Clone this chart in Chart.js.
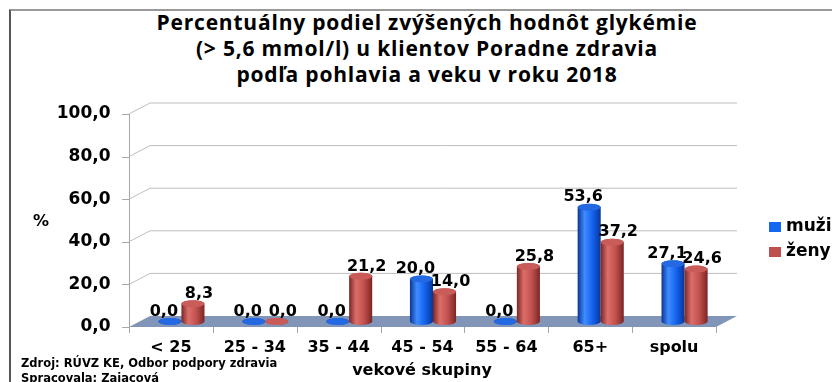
<!DOCTYPE html>
<html>
<head>
<meta charset="utf-8">
<script src="https://cdn.jsdelivr.net/npm/chart.js@4.4.0/dist/chart.umd.min.js"></script>
<style>
  html, body { margin: 0; padding: 0; background: #fff; }
  #wrap { position: relative; width: 832px; height: 382px; overflow: hidden; }
  #ram { position: absolute; left: 9px; top: 9px; right: -10px; bottom: -10px;
         border-top: 2px solid #999; border-left: 2px solid #555; }
  #nadpis { position: absolute; left: 0; width: 854px; top: 9px; text-align: center;
            font: bold 21px 'Open Sans', sans-serif; letter-spacing: 0.8px; line-height: 26px; color: #000; }
  #zdroj { position: absolute; left: 21px; top: 356px; font: bold 11.5px 'DejaVu Sans', sans-serif;
           line-height: 15px; color: #000; }
  canvas { position: absolute; left: 0; top: 0; }
</style>
</head>
<body>
<div id="wrap">
  <div id="ram"></div>
  <div id="nadpis">Percentuálny podiel zvýšených hodnôt glykémie<br>(&gt; 5,6 mmol/l) u klientov Poradne zdravia<br>podľa pohlavia a veku v roku 2018</div>
  <canvas id="graf" width="832" height="382"></canvas>
  <div id="zdroj">Zdroj: RÚVZ KE, Odbor podpory zdravia<br>Spracovala: Zajacová</div>
</div>
<script>
// vekové skupiny a hodnoty v %
const kategorie = ['< 25', '25 - 34', '35 - 44', '45 - 54', '55 - 64', '65+', 'spolu'];
const muzi = [0.0, 0.0, 0.0, 20.0, 0.0, 53.6, 27.1];
const zeny = [8.3, 0.0, 21.2, 14.0, 25.8, 37.2, 24.6];
const osYmin = 0;
const osYmax = 100;
const osYkrok = 20;

// hlbka 3D priestoru (posun od predu dozadu)
const HX = 21, HY = 11;
const pismo = { family: 'DejaVu Sans', weight: 'bold', size: 16 };
const cislo = v => v.toFixed(1).replace('.', ',');

const farby = [
  { tmava: '#0a3596', svetla: '#3f8cff', zaklad: '#1262ee', vrch: '#2468e2', legenda: '#1566f0' },
  { tmava: '#7a2624', svetla: '#dc6e6a', zaklad: '#c0504d', vrch: '#c95c59', legenda: '#c0504d' }
];

function valec(ctx, x, top, base, w, f) {
  const rx = w / 2, ry = 3.5;
  const g = ctx.createLinearGradient(x - rx, 0, x + rx, 0);
  g.addColorStop(0, f.tmava);
  g.addColorStop(0.3, f.svetla);
  g.addColorStop(0.65, f.zaklad);
  g.addColorStop(1, f.tmava);
  ctx.fillStyle = g;
  ctx.beginPath();
  ctx.moveTo(x - rx, top);
  ctx.lineTo(x - rx, base);
  ctx.ellipse(x, base, rx, ry, 0, Math.PI, 0, true);
  ctx.lineTo(x + rx, top);
  ctx.ellipse(x, top, rx, ry, 0, 0, Math.PI, true);
  ctx.closePath();
  ctx.fill();
  ctx.fillStyle = f.vrch;
  ctx.beginPath();
  ctx.ellipse(x, top, rx, ry, 0, 0, Math.PI * 2);
  ctx.fill();
}

const priestor = {
  id: 'priestor',
  beforeDatasetsDraw(chart) {
    const ctx = chart.ctx, a = chart.chartArea;
    const y = chart.scales.y;
    const dx = HX / 2, dy = HY / 2;
    ctx.save();
    ctx.lineWidth = 1;
    // mriezka na zadnej stene a bocne spojnice
    ctx.strokeStyle = '#bdbdbd';
    for (let v = osYmin + osYkrok; v <= osYmax; v += osYkrok) {
      const p = y.getPixelForValue(v);
      ctx.beginPath();
      ctx.moveTo(a.left - dx, p + dy);
      ctx.lineTo(a.left + dx, p - dy);
      ctx.lineTo(a.right + dx, p - dy);
      ctx.stroke();
    }
    // podlaha
    const b = y.getPixelForValue(0);
    ctx.fillStyle = '#8095b8';
    ctx.beginPath();
    ctx.moveTo(a.left - dx, b + dy);
    ctx.lineTo(a.right - dx, b + dy);
    ctx.lineTo(a.right + dx, b - dy);
    ctx.lineTo(a.left + dx, b - dy);
    ctx.closePath();
    ctx.fill();
    // predna os y s ciarkami
    ctx.strokeStyle = '#a6a6a6';
    ctx.beginPath();
    ctx.moveTo(a.left - dx + 0.5, y.getPixelForValue(osYmax) + dy);
    ctx.lineTo(a.left - dx + 0.5, b + dy);
    for (let v = osYmin; v <= osYmax; v += osYkrok) {
      const p = Math.round(y.getPixelForValue(v) + dy) + 0.5;
      ctx.moveTo(a.left - dx - 7, p);
      ctx.lineTo(a.left - dx, p);
    }
    // ciarky kategorii na prednej hrane podlahy
    const sirka = (a.right - a.left) / kategorie.length;
    for (let i = 0; i <= kategorie.length; i++) {
      const px = Math.round(a.left - dx + i * sirka) + 0.5;
      ctx.moveTo(px, b + dy);
      ctx.lineTo(px, b + dy + 6);
    }
    ctx.stroke();
    ctx.restore();
  },
  beforeDatasetDraw() {
    return false;
  },
  afterDatasetsDraw(chart) {
    const ctx = chart.ctx;
    ctx.save();
    chart.data.datasets.forEach((ds, di) => {
      chart.getDatasetMeta(di).data.forEach(el => {
        valec(ctx, el.x, el.y, el.base, el.width, farby[di]);
      });
    });
    // hodnoty nad valcami
    ctx.fillStyle = '#000';
    ctx.font = 'bold 16px "DejaVu Sans"';
    ctx.textAlign = 'center';
    ctx.textBaseline = 'middle';
    chart.data.datasets.forEach((ds, di) => {
      const posun = di === 0 ? -6 : 6;
      chart.getDatasetMeta(di).data.forEach((el, i) => {
        ctx.fillText(cislo(ds.data[i]), el.x + posun, el.y - 10);
      });
    });
    ctx.restore();
  },
  afterDraw(chart) {
    const ctx = chart.ctx;
    ctx.save();
    ctx.fillStyle = '#000';
    ctx.font = 'bold 16px "DejaVu Sans"';
    ctx.textBaseline = 'middle';
    ctx.textAlign = 'center';
    ctx.fillText('%', 41, 222);
    ctx.fillText('vekové skupiny', 422, 371);
    // legenda
    ctx.textAlign = 'left';
    chart.data.datasets.forEach((ds, di) => {
      const ly = 227 + di * 25;
      ctx.fillStyle = farby[di].legenda;
      ctx.fillRect(769, ly - 5, 12, 10);
      ctx.fillStyle = '#000';
      ctx.font = 'bold 17px "DejaVu Sans"';
      ctx.fillText(ds.label, 786, ly);
    });
    ctx.restore();
  }
};

new Chart(document.getElementById('graf'), {
  type: 'bar',
  data: {
    labels: kategorie,
    datasets: [
      { label: 'muži', data: muzi, backgroundColor: farby[0].legenda, categoryPercentage: 0.55, barPercentage: 1 },
      { label: 'ženy', data: zeny, backgroundColor: farby[1].legenda, categoryPercentage: 0.55, barPercentage: 1 }
    ]
  },
  options: {
    responsive: false,
    animation: false,
    layout: { padding: { top: 108.5, right: 105.5, left: 0, bottom: 0 } },
    plugins: {
      legend: { display: false },
      tooltip: { enabled: false }
    },
    scales: {
      x: {
        grid: { display: false, drawTicks: false },
        border: { display: false },
        ticks: { padding: 17, labelOffset: -10.5, font: pismo, color: '#000', maxRotation: 0, autoSkip: false },
        afterFit(s) { s.height = 60.5; }
      },
      y: {
        min: osYmin,
        max: osYmax,
        grid: { display: false, drawTicks: false },
        border: { display: false },
        ticks: { stepSize: osYkrok, padding: 29, labelOffset: 5.5, font: { ...pismo, size: 17 }, color: '#000',
                 callback: v => cislo(v) },
        afterFit(s) { s.width = 139.5; }
      }
    }
  },
  plugins: [priestor]
});
</script>
</body>
</html>
